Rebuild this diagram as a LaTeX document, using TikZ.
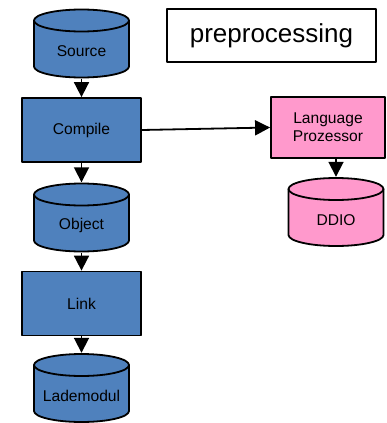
\documentclass[tikz,border=0pt]{standalone}
\usepackage{fontspec}
\setmainfont{Liberation Sans}
\usetikzlibrary{arrows.meta}
\definecolor{boxblue}{RGB}{79,129,189}
\definecolor{boxpink}{RGB}{255,153,204}
\newcommand{\inbody}[1]{\raisebox{-8pt}[\height][\depth]{#1}}
\tikzset{
  store/.style={minimum width=97pt, minimum height=70pt, inner sep=0pt,
    path picture={
      \filldraw[line width=1.8pt, fill=#1]
        ([shift={(1pt,-12pt)}]path picture bounding box.north west)
        -- ([shift={(1pt,12pt)}]path picture bounding box.south west)
        arc[start angle=180, end angle=360, x radius=47.5pt, y radius=11pt]
        -- ([shift={(-1pt,-12pt)}]path picture bounding box.north east)
        arc[start angle=0, end angle=180, x radius=47.5pt, y radius=11pt] -- cycle;
      \draw[line width=1.8pt] ([shift={(1pt,-12pt)}]path picture bounding box.north west)
        arc[start angle=180, end angle=360, x radius=47.5pt, y radius=11pt];
    }},
  job/.style={rectangle, draw, line width=1.8pt, minimum width=119pt, minimum height=64pt},
  flow/.style={-{Triangle[length=15pt,width=15pt]}, line width=1.8pt},
}
\begin{document}
\begin{tikzpicture}[x=1pt, y=-1pt, font=\fontsize{15.6}{18}\selectfont, line join=round]
\useasboundingbox (0,0) rectangle (386,423);
% left column
\node[store=boxblue] (source) at (81.5,43.5) {\inbody{Source}};
\node[job, fill=boxblue] (compile) at (81.5,130) {Compile};
\node[store=boxblue] (object) at (81.5,217.5) {\inbody{Object}};
\node[job, fill=boxblue] (link) at (81.5,303.5) {Link};
\node[store=boxblue] (lademodul) at (81.5,388) {\inbody{Lademodul}};
% right side
\node[draw, line width=1.8pt, minimum width=209pt, minimum height=53pt, font=\fontsize{26}{30}\selectfont] (prep) at (271.5,35.5) {preprocessing};
\node[job, fill=boxpink, minimum width=114pt, minimum height=61pt, align=center] (lang) at (328,127.5) {Language\\Prozessor};
\node[store=boxpink] (ddio) at (336,212) {\inbody{DDIO}};
\draw[flow] (source) -- (compile);
\draw[flow] (compile) -- (object);
\draw[flow] (object) -- (link);
\draw[flow] (link) -- (lademodul);
\draw[flow] (compile.east) -- (lang.west);
\draw[flow] (ddio |- lang.south) -- (ddio);
\end{tikzpicture}
\end{document}
